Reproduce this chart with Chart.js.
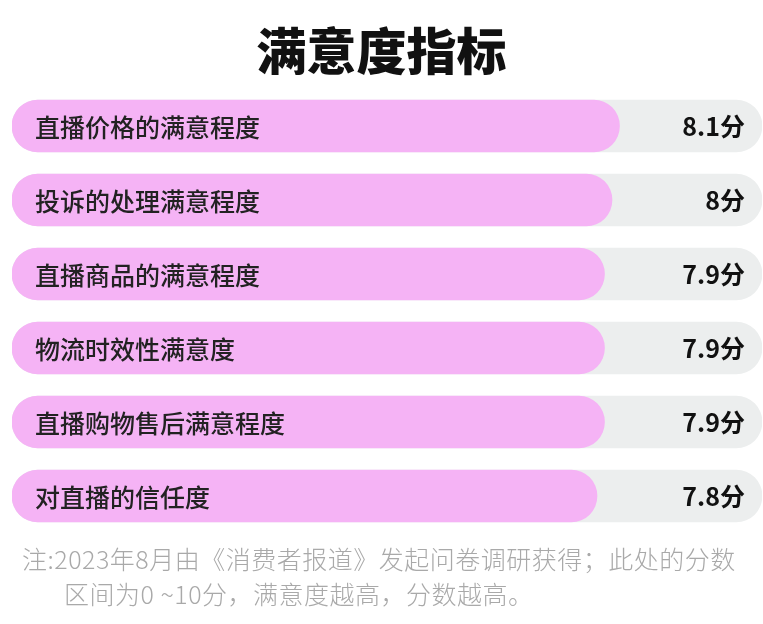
<!DOCTYPE html>
<html>
<head>
<meta charset="utf-8">
<script src="https://cdn.jsdelivr.net/npm/chart.js@4"></script>
<style>
  html, body { margin: 0; padding: 0; background: #fff; }
  #wrap { position: relative; width: 763px; height: 624px; overflow: hidden; }
  #chart { position: absolute; left: 0; top: 0; }
  #title {
    position: absolute; left: 0; top: 15px; width: 763px; text-align: center;
    font-family: "Noto Sans CJK SC", sans-serif; font-weight: 900; font-size: 50px;
    line-height: 66px; color: #111;
  }
  #note {
    position: absolute; left: 22px; top: 541px; width: 740px;
    font-family: "Noto Sans CJK SC", sans-serif; font-weight: 300; font-size: 25px;
    line-height: 35px; color: #a9a9a9; letter-spacing: 0.5px;
  }
  #note .l2 { padding-left: 42px; }
</style>
</head>
<body>
<div id="wrap">
  <canvas id="chart" width="763" height="624"></canvas>
  <div id="title">满意度指标</div>
  <div id="note">注:2023年8月由《消费者报道》发起问卷调研获得；此处的分数<div class="l2">区间为0 ~10分，满意度越高，分数越高。</div></div>
</div>
<script>
const categories = ["直播价格的满意程度", "投诉的处理满意程度", "直播商品的满意程度", "物流时效性满意度", "直播购物售后满意程度", "对直播的信任度"];
const scores = [8.1, 8, 7.9, 7.9, 7.9, 7.8];
const maxScore = 10;
const trackValues = categories.map(() => maxScore);

const labelPlugin = {
  id: "barLabels",
  afterDatasetsDraw(chart) {
    const ctx = chart.ctx;
    const meta = chart.getDatasetMeta(1);
    const right = chart.chartArea.right;
    ctx.save();
    ctx.textBaseline = "middle";
    meta.data.forEach((bar, i) => {
      ctx.fillStyle = "#222";
      ctx.font = "500 25px 'Noto Sans CJK SC'";
      ctx.textAlign = "left";
      ctx.fillText(categories[i], 35, bar.y + 1);
      ctx.fillStyle = "#111";
      ctx.font = "bold 25px 'Noto Sans CJK SC'";
      ctx.textAlign = "right";
      ctx.fillText(scores[i] + "分", right - 17, bar.y);
    });
    ctx.restore();
  }
};

new Chart(document.getElementById("chart"), {
  type: "bar",
  data: {
    labels: categories,
    datasets: [
      {
        data: trackValues,
        backgroundColor: "#eceeee",
        borderRadius: 26,
        borderSkipped: false,
        barThickness: 52,
        grouped: false,
        order: 2
      },
      {
        data: scores,
        backgroundColor: "#f5b3f5",
        borderRadius: 26,
        borderSkipped: false,
        barThickness: 52,
        grouped: false,
        order: 1
      }
    ]
  },
  options: {
    indexAxis: "y",
    responsive: false,
    animation: false,
    layout: { padding: { left: 12, right: 1, top: 89, bottom: 91 } },
    plugins: { legend: { display: false }, tooltip: { enabled: false } },
    scales: {
      x: { min: 0, max: maxScore, display: false },
      y: { display: false }
    }
  },
  plugins: [labelPlugin]
});
</script>
</body>
</html>
